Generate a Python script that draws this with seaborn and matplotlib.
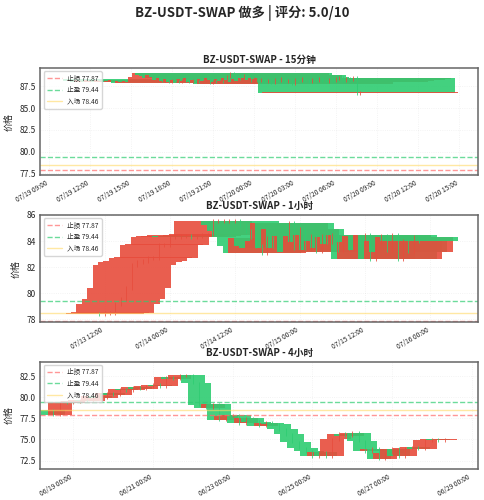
import numpy as np
import pandas as pd
import matplotlib
matplotlib.use("Agg")
import matplotlib.pyplot as plt
import matplotlib.dates as mdates
import seaborn as sns

sns.set_style("white")
plt.rcParams["font.family"] = ["Noto Sans CJK SC", "DejaVu Sans"]

STOP = 77.87
TAKE = 79.44
ENTRY = 78.46

# closes per timeframe (open = previous close)
close_15m = [88.3, 88.1, 88.2, 88.0, 88.2, 88.1, 88.0, 88.2, 88.1, 88.0,
             88.2, 88.1, 88.0, 88.1, 88.2, 87.9, 88.1, 88.0, 88.1, 88.0,
             88.6, 89.0, 88.8, 88.7, 88.4, 88.8, 88.6, 88.2, 88.4, 88.1,
             88.3, 88.0, 88.2, 87.9, 88.3, 88.1, 88.4, 88.0, 88.2, 87.8,
             88.3, 88.1, 88.4, 88.2, 88.0, 88.3, 88.1, 88.4, 88.2, 88.0,
             88.3, 88.1, 88.4, 88.5, 88.2, 88.4, 88.3, 88.5, 86.7, 86.8]
open0_15m = 88.3
start_15m = "2025-07-19 17:00"

close_1h = [78.4, 78.5, 78.5, 79.2, 79.6, 80.4, 82.2, 82.4, 82.5, 82.7,
            82.7, 83.7, 83.7, 84.3, 84.3, 84.4, 84.4, 84.3, 84.4, 84.5,
            84.5, 85.5, 85.5, 85.5, 85.5, 85.5, 85.2, 84.8, 84.3, 83.6,
            83.1, 84.2, 83.6, 83.5, 84.0, 85.4, 83.5, 84.9, 83.5, 84.4,
            83.2, 84.4, 83.9, 84.5, 83.3, 84.0, 83.5, 84.3, 83.8, 84.5,
            82.6, 83.9, 84.4, 83.3, 84.5, 82.6, 84.0, 83.2, 84.3, 84.0]
open0_1h = 78.45
start_1h = "2025-07-13 11:00"

close_4h = [77.9, 79.4, 79.3, 79.5, 79.7, 79.6, 80.2, 79.9, 80.5, 80.3,
            81.0, 80.8, 81.2, 81.0, 81.3, 81.5, 81.3, 82.4, 82.2, 82.6,
            82.6, 81.7, 79.1, 78.7, 79.2, 77.3, 77.8, 77.9, 76.9, 77.5,
            77.1, 76.6, 77.0, 76.8, 76.2, 75.6, 74.7, 74.0, 73.6, 73.0,
            73.5, 73.0, 75.0, 75.7, 75.4, 75.8, 74.8, 73.6, 73.9, 72.7,
            73.4, 73.9, 73.0, 74.0, 74.1, 73.9, 74.9, 75.0, 74.9, 75.0]
open0_4h = 78.5
start_4h = "2025-06-18 12:00"

UP = "#e74c3c"
DOWN = "#2ecc71"


def candles(ax, start, freq, open0, closes):
    times = pd.date_range(start, periods=len(closes), freq=freq)
    opens = [open0] + closes[:-1]
    for t, o, c in zip(times, opens, closes):
        col = UP if c >= o else DOWN
        lo, hi = min(o, c), max(o, c)
        ax.vlines(t, lo - 0.15, hi + 0.15, color=col, linewidth=0.7, alpha=0.8)
        ax.bar(t, max(hi - lo, 0.05), bottom=lo, width=0.6, color=col, alpha=0.9, linewidth=0)


fig, axes = plt.subplots(3, 1, figsize=(4.84, 5.0), dpi=100)
fig.subplots_adjust(left=0.083, right=0.988, top=0.864, bottom=0.062, hspace=0.37)
fig.suptitle("BZ-USDT-SWAP 做多 | 评分: 5.0/10", fontsize=9.5, fontweight="bold", y=0.99)

panels = [
    ("15分钟", start_15m, "15min", open0_15m, close_15m, mdates.HourLocator(interval=3), (77.3, 89.6)),
    ("1小时", start_1h, "1h", open0_1h, close_1h, mdates.HourLocator(byhour=[0, 12]), (77.8, 86.0)),
    ("4小时", start_4h, "4h", open0_4h, close_4h,
     mdates.DayLocator(bymonthday=[19, 21, 23, 25, 27, 29]), (71.5, 84.2)),
]

for ax, (name, start, freq, o0, closes, loc, ylim) in zip(axes, panels):
    candles(ax, start, freq, o0, closes)
    ax.axhline(STOP, color="#ff6b6b", linestyle="--", linewidth=1, alpha=0.7, label=f"止损 {STOP}")
    ax.axhline(TAKE, color="#2ecc71", linestyle="--", linewidth=1, alpha=0.7, label=f"止盈 {TAKE}")
    ax.axhline(ENTRY, color="#ffd966", linestyle="-", linewidth=1, alpha=0.6, label=f"入场 {ENTRY}")
    ax.set_title(f"BZ-USDT-SWAP - {name}", fontsize=7, fontweight="bold", pad=4)
    ax.set_ylabel("价格", fontsize=6.5)
    ax.set_ylim(*ylim)
    if name == "4小时":
        ax.set_xlim(pd.Timestamp("2025-06-18 04:00"), pd.Timestamp("2025-06-29 04:00"))
    ax.xaxis.set_major_locator(loc)
    ax.xaxis.set_major_formatter(mdates.DateFormatter("%m/%d %H:%M"))
    ax.tick_params(axis="x", labelsize=4.8, rotation=30, length=2, pad=1)
    ax.tick_params(axis="y", labelsize=6, length=2, pad=1)
    for lab in ax.get_xticklabels():
        lab.set_ha("right")
    ax.grid(True, alpha=0.3, linestyle=":", linewidth=0.6)
    for s in ax.spines.values():
        s.set_color("#666666")
        s.set_linewidth(1.1)
    ax.legend(loc="upper left", fontsize=4.8, frameon=True, handlelength=2.2, borderpad=0.5, labelspacing=0.5)

fig.savefig("out.png", dpi=100)
